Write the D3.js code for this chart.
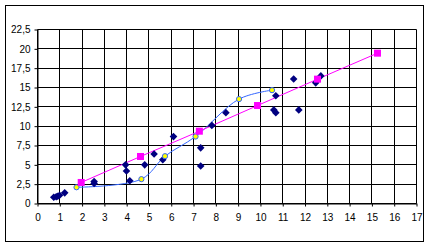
<!DOCTYPE html>
<html>
<head>
<meta charset="utf-8">
<script src="https://cdn.jsdelivr.net/npm/d3@7"></script>
<style>
  body { margin: 0; background: #fff; }
  svg { display: block; font-family: Arial, "Liberation Sans", sans-serif; }
</style>
</head>
<body>
<svg id="chart" width="430" height="247"></svg>
<script>
// measured points (dark diamonds)
const pointX = [0.73, 0.84, 0.91, 0.99, 1.22, 2.54, 2.54, 3.95, 3.99, 4.14, 4.81, 5.23, 5.62, 6.1, 7.32, 7.32, 7.82, 8.45, 10.69, 10.6, 10.69, 11.49, 11.72, 12.48, 12.71];
const pointY = [0.8, 0.87, 0.94, 1.07, 1.38, 2.85, 2.6, 5.0, 4.2, 2.95, 5.0, 6.4, 5.65, 8.65, 7.2, 4.85, 10.1, 11.75, 13.93, 12.1, 11.75, 16.1, 12.1, 15.6, 16.5];

// smoothed curve (yellow circles)
const curveX = [1.75, 4.66, 5.72, 7.09, 9.04, 10.52];
const curveY = [2.1, 3.15, 6.12, 8.66, 13.5, 14.66];

// straight line (magenta squares)
const lineX = [1.96, 4.62, 7.26, 9.87, 12.56, 15.25];
const lineY = [2.72, 6.08, 9.35, 12.67, 16.08, 19.44];

const xTicks = d3.range(0, 18, 1);
const yTicks = d3.range(0, 22.6, 2.5);

const svg = d3.select("#chart");

// outer chart frame
svg.append("rect")
  .attr("x", 5.5).attr("y", 5.5)
  .attr("width", 418).attr("height", 236)
  .attr("fill", "#fff").attr("stroke", "#000");

const margin = { left: 37, right: 14, top: 29, bottom: 44 };
const width = 430 - margin.left - margin.right;
const height = 247 - margin.top - margin.bottom;

const xScale = d3.scaleLinear().domain([0, 17]).range([0, width]);
const yScale = d3.scaleLinear().domain([0, 22.5]).range([height, 0]);

const g = svg.append("g")
  .attr("transform", `translate(${margin.left + 0.5},${margin.top + 0.5})`);

// grid
g.append("g").selectAll("line")
  .data(xTicks)
  .join("line")
  .attr("x1", d => Math.round(xScale(d))).attr("x2", d => Math.round(xScale(d)))
  .attr("y1", 0).attr("y2", height)
  .attr("stroke", "#000");

g.append("g").selectAll("line")
  .data(yTicks)
  .join("line")
  .attr("x1", 0).attr("x2", width)
  .attr("y1", d => Math.round(yScale(d))).attr("y2", d => Math.round(yScale(d)))
  .attr("stroke", "#000");

const fmt = d => String(d).replace(".", ",");

const xAxis = d3.axisBottom(xScale).tickValues(xTicks).tickSize(3).tickSizeOuter(0).tickFormat(fmt);
const yAxis = d3.axisLeft(yScale).tickValues(yTicks).tickSize(3).tickSizeOuter(0).tickFormat(fmt);

const xAxisG = g.append("g").attr("transform", `translate(0,${height})`).call(xAxis);
const yAxisG = g.append("g").call(yAxis);

[xAxisG, yAxisG].forEach(a => {
  a.select(".domain").attr("stroke", "#000");
  a.selectAll(".tick line").attr("stroke", "#000");
  a.selectAll(".tick text").attr("fill", "#000").style("font-size", "10px");
});
xAxisG.selectAll(".tick text").attr("dy", "0.71em").attr("y", 10);
yAxisG.selectAll(".tick text").attr("x", -7);

// smoothed blue curve
const curveData = curveX.map((x, i) => [x, curveY[i]]);
g.append("path")
  .datum(curveData)
  .attr("fill", "none")
  .attr("stroke", "#3366ff")
  .attr("stroke-width", 1)
  .attr("d", d3.line().x(d => xScale(d[0])).y(d => yScale(d[1])).curve(d3.curveCatmullRom.alpha(0.5)));

// magenta line
const lineData = lineX.map((x, i) => [x, lineY[i]]);
g.append("path")
  .datum(lineData)
  .attr("fill", "none")
  .attr("stroke", "#ff00ff")
  .attr("stroke-width", 1)
  .attr("d", d3.line().x(d => xScale(d[0])).y(d => yScale(d[1])));

// diamonds
const pointData = pointX.map((x, i) => [x, pointY[i]]);
g.append("g").selectAll("path")
  .data(pointData)
  .join("path")
  .attr("d", d3.symbol(d3.symbolSquare, 29))
  .attr("transform", d => `translate(${xScale(d[0])},${yScale(d[1])}) rotate(45)`)
  .attr("fill", "#000080");

// yellow circles
g.append("g").selectAll("circle")
  .data(curveData)
  .join("circle")
  .attr("cx", d => xScale(d[0]))
  .attr("cy", d => yScale(d[1]))
  .attr("r", 2.6)
  .attr("fill", "#ffff00")
  .attr("stroke", "#3366ff")
  .attr("stroke-width", 1);

// magenta squares
g.append("g").selectAll("rect")
  .data(lineData)
  .join("rect")
  .attr("x", d => xScale(d[0]) - 3.5)
  .attr("y", d => yScale(d[1]) - 3.5)
  .attr("width", 7).attr("height", 7)
  .attr("fill", "#ff00ff");
</script>
</body>
</html>
